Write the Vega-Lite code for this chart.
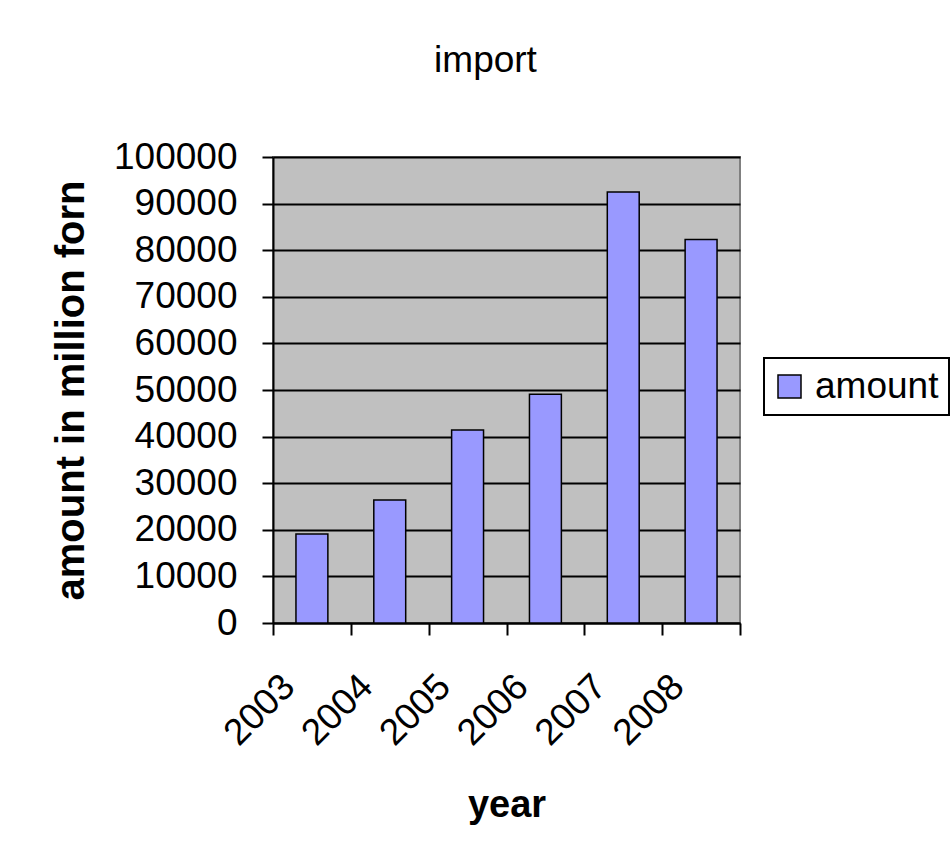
{
  "$schema": "https://vega.github.io/schema/vega-lite/v6.json",
  "width": 467,
  "height": 466,
  "autosize": {"type": "none"},
  "padding": {"left": 273, "top": 157, "right": 210, "bottom": 229},
  "background": "white",
  "title": {
    "text": "import",
    "font": "Liberation Sans",
    "fontSize": 37,
    "fontWeight": "normal",
    "color": "black",
    "anchor": "middle",
    "dx": -21,
    "offset": 58
  },
  "data": {
    "values": [
      {"year": "2003", "amount": 19100},
      {"year": "2004", "amount": 26400},
      {"year": "2005", "amount": 41400},
      {"year": "2006", "amount": 49100},
      {"year": "2007", "amount": 92500},
      {"year": "2008", "amount": 82300}
    ]
  },
  "mark": {
    "type": "bar",
    "width": {"band": 0.41},
    "stroke": "black",
    "strokeWidth": 1.5
  },
  "encoding": {
    "x": {
      "field": "year",
      "type": "ordinal",
      "scale": {"paddingInner": 0, "paddingOuter": 0},
      "axis": {
        "title": "year",
        "labelAngle": -45,
        "tickBand": "extent",
        "tickSize": 12,
        "tickWidth": 2,
        "tickColor": "black",
        "domainColor": "black",
        "domainWidth": 2,
        "labelFont": "Liberation Sans",
        "labelFontSize": 37,
        "labelColor": "black",
        "labelPadding": 33,
        "labelOffset": -36,
        "titleFont": "Liberation Sans",
        "titleFontSize": 38,
        "titleFontWeight": "bold",
        "titleColor": "black",
        "titlePadding": 35
      }
    },
    "y": {
      "field": "amount",
      "type": "quantitative",
      "scale": {"domain": [0, 100000], "nice": false},
      "axis": {
        "title": "amount in million forn",
        "values": [0, 10000, 20000, 30000, 40000, 50000, 60000, 70000, 80000, 90000, 100000],
        "format": "d",
        "tickSize": 11,
        "tickWidth": 2,
        "tickColor": "black",
        "domainColor": "black",
        "domainWidth": 2,
        "grid": true,
        "gridColor": "black",
        "gridWidth": 2,
        "gridOpacity": 1,
        "labelFont": "Liberation Sans",
        "labelFontSize": 37,
        "labelColor": "black",
        "labelPadding": 25,
        "titleFont": "Liberation Sans",
        "titleFontSize": 40,
        "titleFontWeight": "bold",
        "titleColor": "black",
        "titlePadding": 22
      }
    },
    "color": {
      "datum": "amount",
      "scale": {"range": ["#9999FF"]},
      "legend": {
        "title": null,
        "orient": "none",
        "legendX": 491,
        "legendY": 201,
        "padding": 10,
        "symbolOffset": -3,
        "symbolType": "square",
        "symbolSize": 529,
        "symbolStrokeColor": "black",
        "symbolOpacity": 1,
        "labelFont": "Liberation Sans",
        "labelFontSize": 37,
        "labelColor": "black",
        "labelOffset": 7,
        "strokeColor": "black",
        "fillColor": "white"
      }
    }
  },
  "config": {
    "view": {"fill": "#C0C0C0", "stroke": "#808080", "strokeWidth": 2},
    "legend": {"strokeWidth": 2, "symbolStrokeWidth": 1.5}
  }
}
